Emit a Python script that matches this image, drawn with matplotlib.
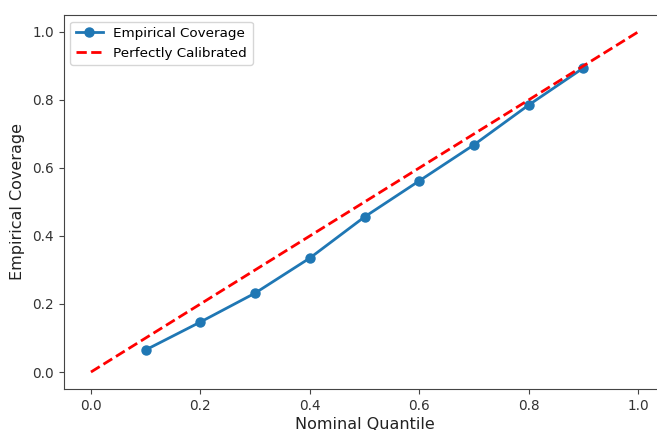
import matplotlib
matplotlib.use("Agg")
import matplotlib.pyplot as plt
import numpy as np

quantiles = [0.1, 0.2, 0.3, 0.4, 0.5, 0.6, 0.7, 0.8, 0.9]
coverage = [0.065, 0.147, 0.232, 0.335, 0.456, 0.562, 0.668, 0.785, 0.894]
ideal = [0.0, 1.0]

fig = plt.figure(figsize=(6.57, 4.30), dpi=100)
ax = fig.add_axes([0.0968, 0.0953, 0.916, 0.870])

ax.plot(quantiles, coverage, marker="o", color="#1f77b4", lw=2, ms=6.5,
        label="Empirical Coverage")
ax.plot(ideal, ideal, "--", color="red", lw=2, label="Perfectly Calibrated")

ax.set_xlabel("Nominal Quantile", fontsize=11.5, color="#222222", labelpad=3)
ax.set_ylabel("Empirical Coverage", fontsize=11.5, color="#222222", labelpad=5)
ax.tick_params(labelsize=9.8, labelcolor="#333333", color="#444444")
for s in ax.spines.values():
    s.set_color("#444444")
ax.legend(loc="upper left", fontsize=9.7)

fig.savefig("out.png", dpi=100)
